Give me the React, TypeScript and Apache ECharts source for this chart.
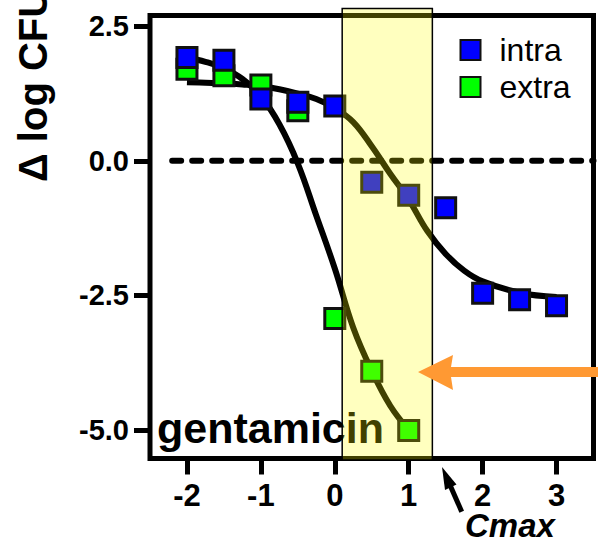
import React, { useEffect, useRef } from "react";
import * as echarts from "echarts";

const xTicks = [-2, -1, 0, 1, 2, 3];
const yTicks = [-5, -2.5, 0, 2.5];

const intraX = [-2, -1.5, -1, -0.5, 0, 0.5, 1, 1.5, 2, 2.5, 3];
const intraY = [1.92, 1.87, 1.15, 1.09, 1.02, -0.4, -0.64, -0.87, -2.46, -2.58, -2.69];

const extraX = [-2, -1.5, -1, -0.5, 0, 0.5, 1];
const extraY = [1.7, 1.58, 1.41, 0.93, -2.93, -3.91, -5.01];

const intraCurveX = [-2, -1.75, -1.5, -1.25, -1, -0.75, -0.5, -0.25, 0, 0.25, 0.5, 0.75, 1, 1.25, 1.5, 1.75, 2, 2.5, 3];
const intraCurveY = [1.46, 1.45, 1.44, 1.42, 1.39, 1.33, 1.25, 1.15, 0.98, 0.72, 0.27, -0.24, -0.72, -1.3, -1.73, -2.04, -2.24, -2.45, -2.53];

const extraCurveX = [-2, -1.75, -1.5, -1.25, -1, -0.75, -0.5, -0.25, 0, 0.25, 0.5, 0.75, 1];
const extraCurveY = [1.92, 1.84, 1.72, 1.52, 1.2, 0.68, -0.05, -1.02, -2.0, -3.1, -3.9, -4.55, -5.0];

const zeroLineX = [-2.2, 3.5];
const bandX = [0.1, 1.32];
const bandY = [-5.56, 2.83];

const FONT = "'Liberation Sans', Arial, sans-serif";

const pairs = (xs: number[], ys: number[]) => xs.map((x, i) => [x, ys[i]]);

export default function App() {
  const ref = useRef<HTMLDivElement>(null);
  useEffect(() => {
    if (!ref.current) return;
    const chart = echarts.init(ref.current, undefined, { renderer: "svg" });
    const option: any = {
      animation: false,
      backgroundColor: "#ffffff",
      grid: {
        left: 150,
        right: 4.5,
        top: 15.5,
        bottom: 84.5,
        show: true,
        borderColor: "#000",
        borderWidth: 5,
        backgroundColor: "transparent",
        z: 1,
      },
      xAxis: {
        type: "value",
        min: -2.5,
        max: 3.5,
        axisLine: { show: false, onZero: false },
        splitLine: { show: false },
        axisTick: {
          show: true,
          length: 16,
          customValues: xTicks,
          lineStyle: { color: "#000", width: 5 },
        },
        axisLabel: {
          customValues: xTicks,
          margin: 21,
          fontSize: 31,
          fontWeight: "bold",
          fontFamily: FONT,
          color: "#000",
        },
      },
      yAxis: {
        type: "value",
        min: -5.53,
        max: 2.7,
        axisLine: { show: false, onZero: false },
        splitLine: { show: false },
        axisTick: {
          show: true,
          length: 16,
          customValues: yTicks,
          lineStyle: { color: "#000", width: 5 },
        },
        axisLabel: {
          customValues: yTicks,
          margin: 21,
          fontSize: 29,
          fontWeight: "bold",
          fontFamily: FONT,
          color: "#000",
          formatter: (v: number) => v.toFixed(1),
        },
      },
      legend: {
        data: ["intra", "extra"],
        orient: "vertical",
        left: 454.5,
        top: 29,
        itemWidth: 20,
        itemHeight: 20,
        itemGap: 5,
        icon: "rect",
        textStyle: {
          fontSize: 32,
          fontFamily: FONT,
          color: "#000",
          padding: [0, 0, 0, 14],
        },
      },
      graphic: [
        {
          type: "text",
          z: 1,
          x: 33,
          y: 182,
          rotation: Math.PI / 2,
          style: {
            text: "Δ log CFU",
            font: `bold 40px ${FONT}`,
            fill: "#000",
            textAlign: "left",
            textVerticalAlign: "middle",
          },
        },
        {
          type: "text",
          z: 1,
          x: 157,
          y: 428,
          style: {
            text: "gentamicin",
            font: `bold 43px ${FONT}`,
            fill: "#000",
            textAlign: "left",
            textVerticalAlign: "middle",
          },
        },
        {
          type: "text",
          z: 100,
          x: 465,
          y: 525,
          style: {
            text: "Cmax",
            font: `italic bold 33px ${FONT}`,
            fill: "#000",
            textAlign: "left",
            textVerticalAlign: "middle",
          },
        },
        {
          type: "line",
          z: 100,
          shape: { x1: 461.7, y1: 511.7, x2: 450, y2: 485 },
          style: { stroke: "#000", lineWidth: 5 },
        },
        {
          type: "polygon",
          z: 100,
          shape: { points: [[442, 467], [456.5, 484.5], [445, 490]] },
          style: { fill: "#000" },
        },
        {
          type: "polygon",
          z: 100,
          shape: {
            points: [
              [418, 372],
              [453, 355],
              [451, 367],
              [600, 367],
              [600, 377],
              [451, 377],
              [453, 390],
            ],
          },
          style: { fill: "#ff9933" },
        },
      ],
      series: [
        {
          name: "zero",
          type: "line",
          data: pairs(zeroLineX, [0, 0]),
          symbol: "none",
          z: 2,
          lineStyle: { color: "#000", width: 6, type: [9, 11], cap: "round" },
        },
        {
          name: "intraFit",
          type: "line",
          data: pairs(intraCurveX, intraCurveY),
          smooth: 0.4,
          symbol: "none",
          z: 3,
          lineStyle: { color: "#000", width: 6 },
        },
        {
          name: "extraFit",
          type: "line",
          data: pairs(extraCurveX, extraCurveY),
          smooth: 0.4,
          symbol: "none",
          z: 3,
          lineStyle: { color: "#000", width: 6 },
        },
        {
          name: "extra",
          type: "scatter",
          data: pairs(extraX, extraY),
          symbol: "rect",
          symbolSize: 20,
          z: 4,
          itemStyle: { color: "#00ff00", borderColor: "#111", borderWidth: 3, opacity: 1 },
        },
        {
          name: "intra",
          type: "scatter",
          data: pairs(intraX, intraY),
          symbol: "rect",
          symbolSize: 20,
          z: 5,
          itemStyle: { color: "#0000ff", borderColor: "#111", borderWidth: 3, opacity: 1 },
        },
        {
          name: "band",
          type: "custom",
          z: 10,
          clip: false,
          silent: true,
          data: [[bandX[0], bandX[1], bandY[0], bandY[1]]],
          encode: { x: [0, 1], y: [2, 3] },
          renderItem: (params: any, api: any) => {
            const p0 = api.coord([api.value(0), api.value(3)]);
            const p1 = api.coord([api.value(1), api.value(2)]);
            return {
              type: "rect",
              shape: { x: p0[0], y: p0[1], width: p1[0] - p0[0], height: p1[1] - p0[1] },
              style: { fill: "rgba(255,255,0,0.25)", stroke: "#000", lineWidth: 1.5 },
            };
          },
        },
      ],
    };
    chart.setOption(option);
    return () => chart.dispose();
  }, []);
  return (
    <div
      ref={ref}
      style={{ position: "fixed", left: 0, top: 0, width: 598, height: 543, background: "#fff" }}
    />
  );
}
